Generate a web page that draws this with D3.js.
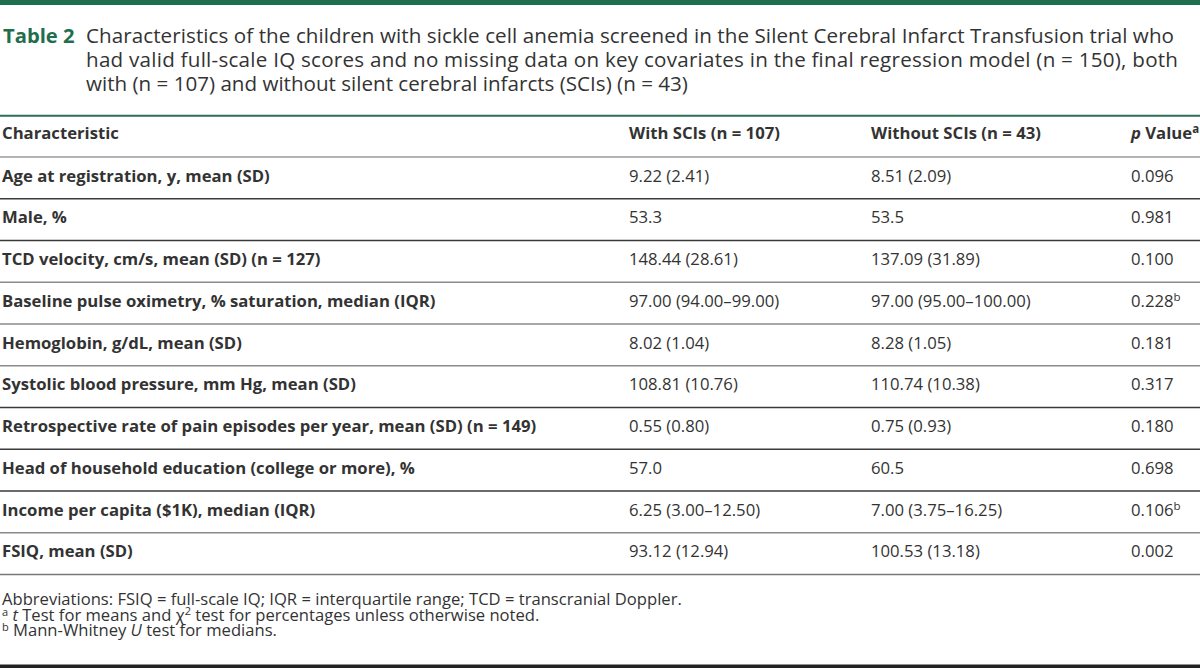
<!DOCTYPE html>
<html>
<head>
<meta charset="utf-8">
<script src="https://cdn.jsdelivr.net/npm/d3@7"></script>
<style>
html,body{margin:0;padding:0;background:#fff;}
svg{display:block;font-family:"Open Sans",sans-serif;}
</style>
</head>
<body>
<svg id="chart" width="1200" height="668"></svg>
<script>
const tableLabel = "Table 2";
const titleLines = [
  "Characteristics of the children with sickle cell anemia screened in the Silent Cerebral Infarct Transfusion trial who",
  "had valid full-scale IQ scores and no missing data on key covariates in the final regression model (n = 150), both",
  "with (n = 107) and without silent cerebral infarcts (SCIs) (n = 43)"
];
const columnKeys = ["char", "with", "without", "p"];
const columnHeaders = ["Characteristic", "With SCIs (n = 107)", "Without SCIs (n = 43)", "Value"];
const characteristics = [
  "Age at registration, y, mean (SD)",
  "Male, %",
  "TCD velocity, cm/s, mean (SD) (n = 127)",
  "Baseline pulse oximetry, % saturation, median (IQR)",
  "Hemoglobin, g/dL, mean (SD)",
  "Systolic blood pressure, mm Hg, mean (SD)",
  "Retrospective rate of pain episodes per year, mean (SD) (n = 149)",
  "Head of household education (college or more), %",
  "Income per capita ($1K), median (IQR)",
  "FSIQ, mean (SD)"
];
const withSCIs = ["9.22 (2.41)", "53.3", "148.44 (28.61)", "97.00 (94.00–99.00)", "8.02 (1.04)", "108.81 (10.76)", "0.55 (0.80)", "57.0", "6.25 (3.00–12.50)", "93.12 (12.94)"];
const withoutSCIs = ["8.51 (2.09)", "53.5", "137.09 (31.89)", "97.00 (95.00–100.00)", "8.28 (1.05)", "110.74 (10.38)", "0.75 (0.93)", "60.5", "7.00 (3.75–16.25)", "100.53 (13.18)"];
const pValues = ["0.096", "0.981", "0.100", "0.228", "0.181", "0.317", "0.180", "0.698", "0.106", "0.002"];
const pNotes = ["", "", "", "b", "", "", "", "", "b", ""];

const svg = d3.select("#chart");
const textColor = "#333333";
const green = "#1f6e4e";

// top bar
svg.append("rect").attr("x", 0).attr("y", 0).attr("width", 1200).attr("height", 5).attr("fill", green);

// title
svg.append("text").attr("x", 3).attr("y", 43.3)
  .attr("font-size", 20.2).attr("font-weight", 700).attr("fill", green)
  .text(tableLabel);
const titleY = d3.scaleLinear().domain([0, 1]).range([43.3, 67]);
const titleEnds = [1174, 1178, null];
svg.selectAll("text.title").data(titleLines).join("text")
  .attr("class", "title")
  .attr("x", 86).attr("y", (d, i) => titleY(i))
  .attr("font-size", 20.6).attr("fill", textColor)
  .each(function(d, i) {
    if (titleEnds[i]) d3.select(this).attr("textLength", titleEnds[i] - 86).attr("lengthAdjust", "spacing");
  })
  .text(d => d);

// scales
const x = d3.scaleOrdinal().domain(columnKeys).range([2, 629, 871, 1131]);
const y = d3.scaleBand().domain(d3.range(characteristics.length)).range([157, 574.5]).paddingInner(0).paddingOuter(0);
const baselineOffset = 24.5;

// header
svg.append("line").attr("x1", 0).attr("x2", 1200).attr("y1", 115.7).attr("y2", 115.7)
  .attr("stroke", "#2d6e58").attr("stroke-width", 2);
const header = svg.append("g").attr("font-size", 16.7).attr("font-weight", 700).attr("fill", textColor);
columnKeys.forEach((k, i) => {
  const t = header.append("text").attr("x", x(k)).attr("y", 138.5);
  if (k === "p") {
    t.append("tspan").attr("font-style", "italic").text("p");
    t.append("tspan").text(" " + columnHeaders[i]);
    t.append("tspan").attr("font-size", 11.5).attr("dy", -6).text("a");
  } else {
    t.text(columnHeaders[i]);
  }
});

// row separators
const sepY = [y(0)].concat(d3.range(characteristics.length).map(i => y(i) + y.bandwidth()));
const sepColors = ["#9a9a9a", "#3a3a3a", "#3a3a3a", "#8a8a8a", "#8a8a8a", "#8a8a8a", "#3a3a3a", "#3a3a3a", "#3a3a3a", "#8a8a8a", "#7a7a7a"];
svg.selectAll("line.sep").data(sepY).join("line")
  .attr("class", "sep")
  .attr("x1", 0).attr("x2", 1200)
  .attr("y1", d => d).attr("y2", d => d)
  .attr("stroke", (d, i) => sepColors[i]).attr("stroke-width", 1.6);

// body
const rows = svg.selectAll("g.row").data(characteristics.map((c, i) => ({c, w: withSCIs[i], wo: withoutSCIs[i], p: pValues[i], n: pNotes[i]})))
  .join("g").attr("class", "row")
  .attr("transform", (d, i) => `translate(0,${y(i) + baselineOffset})`)
  .attr("font-size", 16.7).attr("fill", textColor);
rows.append("text").attr("x", x("char")).attr("font-weight", 700).text(d => d.c);
rows.append("text").attr("x", x("with")).text(d => d.w);
rows.append("text").attr("x", x("without")).text(d => d.wo);
const pt = rows.append("text").attr("x", x("p"));
pt.append("tspan").text(d => d.p);
pt.append("tspan").attr("font-size", 11.5).attr("dy", -6).text(d => d.n);

// footnotes
const foot = svg.append("g").attr("font-size", 16.6).attr("fill", textColor);
foot.append("text").attr("x", 2).attr("y", 605)
  .text("Abbreviations: FSIQ = full-scale IQ; IQR = interquartile range; TCD = transcranial Doppler.");
const fa = foot.append("text").attr("x", 2).attr("y", 620.5);
fa.append("tspan").attr("font-size", 11).attr("dy", -5).text("a");
fa.append("tspan").attr("dy", 5).text(" ");
fa.append("tspan").attr("font-style", "italic").text("t");
fa.append("tspan").text(" Test for means and χ");
fa.append("tspan").attr("font-size", 11).attr("dy", -6).text("2");
fa.append("tspan").attr("dy", 6).text(" test for percentages unless otherwise noted.");
const fb = foot.append("text").attr("x", 2).attr("y", 636);
fb.append("tspan").attr("font-size", 11).attr("dy", -5).text("b");
fb.append("tspan").attr("dy", 5).text(" Mann-Whitney ");
fb.append("tspan").attr("font-style", "italic").text("U");
fb.append("tspan").text(" test for medians.");

// bottom bar
svg.append("rect").attr("x", 0).attr("y", 664.5).attr("width", 1200).attr("height", 3.5).attr("fill", "#222");
</script>
</body>
</html>
